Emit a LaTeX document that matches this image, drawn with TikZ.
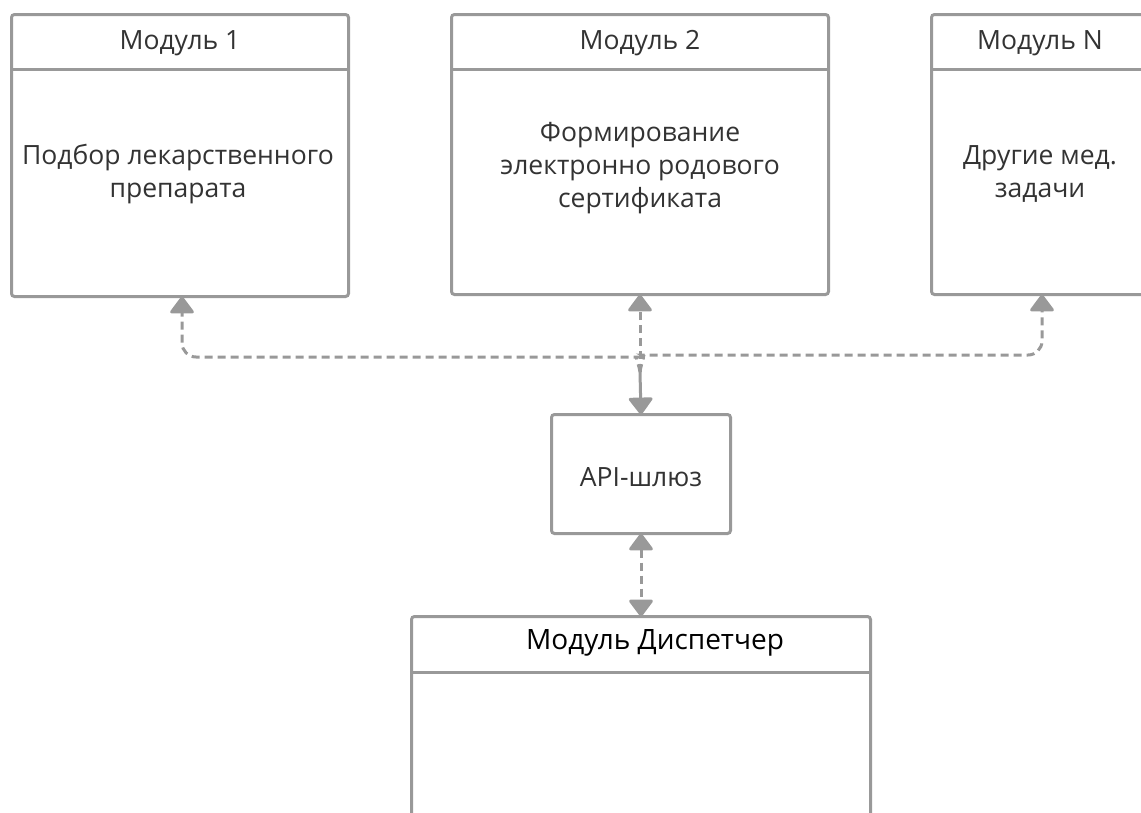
\documentclass[tikz,border=0pt]{standalone}
\usepackage{fontspec}
\setmainfont{Open Sans}
\usetikzlibrary{arrows.meta}
\definecolor{lc}{HTML}{999999}
\definecolor{tc}{HTML}{333333}
\tikzset{
  box/.style={draw=lc, line width=3pt, rounded corners=3pt, inner sep=0pt, outer sep=0pt, fill=white},
  txt/.style={text=tc, font=\fontsize{26.5}{33}\selectfont, align=center, inner sep=0pt},
  conn/.style={draw=lc, line width=3pt},
  dashconn/.style={conn, dash pattern=on 8pt off 5pt},
  tip/.style={-{Triangle[width=26pt,length=18pt,round]}},
  tips/.style={{Triangle[width=26pt,length=18pt,round]}-{Triangle[width=26pt,length=18pt,round]}},
}
\begin{document}
\begin{tikzpicture}[x=1pt,y=-1pt]
\useasboundingbox (0,0) rectangle (1141,812);
\clip (0,0) rectangle (1141,812);
% boxes
\node[box, minimum width=337pt, minimum height=282pt] (m1) at (180,155.5) {};
\node[box, minimum width=377pt, minimum height=280pt] (m2) at (640,154.5) {};
\node[box, minimum width=240pt, minimum height=280pt] (mN) at (1051.5,154.5) {};
\node[box, minimum width=179pt, minimum height=119pt] (api) at (641,474) {};
\node[box, minimum width=459pt, minimum height=300pt] (disp) at (641,766.5) {};
% header lines
\draw[conn] (m1.west |- 0,69) -- (m1.east |- 0,69);
\draw[conn] (m2.west |- 0,69) -- (m2.east |- 0,69);
\draw[conn] (mN.west |- 0,69) -- (mN.east |- 0,69);
\draw[conn] (disp.west |- 0,672) -- (disp.east |- 0,672);
% texts
\node[txt] (t1h) at (180,43) {Модуль 1};
\node[txt] (t1b) at (178,174) {Подбор лекарственного\\препарата};
\node[txt] (t2h) at (640,43) {Модуль 2};
\node[txt] (t2b) at (640,168) {Формирование\\электронно родового\\сертификата};
\node[txt] (tNh) at (1040,43) {Модуль N};
\node[txt] (tNb) at (1040,174) {Другие мед.\\задачи};
\node[txt] (tapi) at (641,477) {API-шлюз};
\node[txt, text=black, font=\fontsize{28}{33}\selectfont] (tdh) at (655,643) {Модуль Диспетчер};
% connectors
\coordinate (J) at (640,372);
\coordinate (L1) at (182,357);
\coordinate (R1) at (1042,355);
\draw[dashconn, tip, rounded corners=14pt] (J) .. controls (638,360) and (634,357) .. (624,357) -- (L1) -- (L1 |- m1.south);
\draw[dashconn, tip, rounded corners=14pt] (J) .. controls (642,359) and (646,355) .. (656,355) -- (R1) -- (R1 |- mN.south);
\draw[dashconn, tip] (J) -- (m2.south);
\draw[conn, tip] (J) -- (api.north);
\draw[dashconn, tips] (api.south) -- (disp.north);
\end{tikzpicture}
\end{document}
